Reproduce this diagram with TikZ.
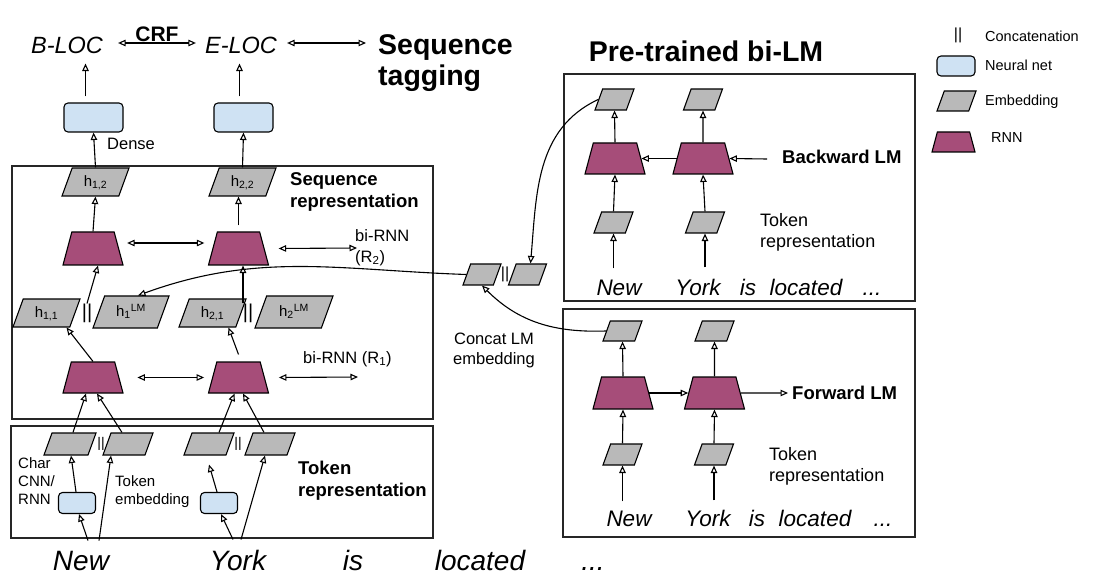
\documentclass[tikz,border=0pt]{standalone}
\usepackage{fontspec}
\setmainfont{Liberation Sans}
\usetikzlibrary{arrows.meta,positioning,shapes.geometric}
\definecolor{rnnc}{RGB}{166,77,121}
\definecolor{nnc}{RGB}{207,226,243}
\definecolor{embc}{RGB}{185,185,185}
\tikzset{
  embbase/.style={trapezium,trapezium left angle=70,trapezium right angle=110,
              draw=black,fill=embc,line width=1.1pt,inner sep=0pt,align=center,
              font=\fontsize{15}{15}\selectfont},
  emb/.code 2 args={\pgfmathsetlengthmacro\embw{#1-0.728*#2}%
              \pgfmathsetlengthmacro\embh{#2/2+4.5pt}%
              \pgfmathsetlengthmacro\embd{#2/2-4.5pt}%
              \pgfkeysalso{embbase,text width=\embw,text height=\embh,text depth=\embd}},
  emb/.default={39pt}{21pt},
  rnnbase/.style={trapezium,trapezium left angle=75,trapezium right angle=75,
              draw=black,fill=rnnc,line width=1.1pt,inner sep=0pt},
  rnn/.code 2 args={\pgfmathsetlengthmacro\rnnw{#1-0.536*#2}%
              \pgfkeysalso{rnnbase,text width=\rnnw,text height=#2,text depth=0pt}},
  rnn/.default={60pt}{32pt},
  nnet/.style={draw=black,fill=nnc,rounded corners=4pt,line width=1.1pt,
               inner sep=0pt,minimum width=37pt,minimum height=21pt},
  panel/.style={draw=black!85,line width=1.4pt,inner sep=0pt},
  arr/.style={-{Triangle[open,length=7.5pt,width=6.5pt]},line width=1.1pt},
  biarr/.style={{Triangle[open,length=7.5pt,width=6.5pt]}-{Triangle[open,length=7.5pt,width=6.5pt]},line width=1.1pt},
  bars/.style={inner sep=0pt,font=\fontsize{20}{20}\selectfont},
  tag/.style={inner sep=0pt,font=\fontsize{23.5}{28}\selectfont\itshape},
  title/.style={inner sep=0pt,font=\fontsize{28.5}{31}\selectfont\bfseries},
  lbl/.style={inner sep=0pt,font=\fontsize{16.5}{20.5}\selectfont},
  boldlbl/.style={inner sep=0pt,font=\fontsize{18.5}{22}\selectfont\bfseries},
  small/.style={inner sep=0pt,font=\fontsize{15}{18}\selectfont},
  lmword/.style={inner sep=0pt,anchor=base,font=\fontsize{22.5}{24}\selectfont\itshape},
  word/.style={inner sep=0pt,anchor=base,font=\fontsize{28}{30}\selectfont\itshape},
  lgd/.style={inner sep=0pt,font=\fontsize{14.5}{16}\selectfont},
}
\begin{document}
\begin{tikzpicture}[x=1pt,y=-1pt]
  \useasboundingbox (0,0) rectangle (1109,580);

  % sequence tagging
  \node[tag] (bloc) at (67,45) {B-LOC};
  \node[tag] (eloc) at (241,45) {E-LOC};
  \node[title,align=left,anchor=west] (seqtag) at (378,63) {Sequence\\tagging};
  \draw[biarr] ([xshift=15pt,yshift=2pt]bloc.east) --
    node[above=1pt,inner sep=0pt,font=\fontsize{21}{21}\selectfont\bfseries] (crf) {CRF}
    ([xshift=-9pt,yshift=2pt]eloc.west);
  \draw[biarr] ([xshift=10pt,yshift=2pt]eloc.east) -- ([xshift=-12pt,yshift=2pt]eloc.east -| seqtag.west);

  \node[nnet,minimum width=59pt,minimum height=29pt] (dn1) at (93.5,117.5) {};
  \node[nnet,minimum width=59pt,minimum height=29pt] (dn2) at (243.5,117.5) {};
  \node[lbl,anchor=west] (dlbl) at (107,144) {Dense};
  \draw[arr] ([xshift=-8pt,yshift=6pt]dn1.north) -- ([xshift=-8pt,yshift=-10pt]dn1.north |- bloc.south);
  \draw[arr] ([xshift=-4pt,yshift=6pt]dn2.north) -- ([xshift=-4pt,yshift=-10pt]dn2.north |- eloc.south);

  % sequence representation
  \node[panel,minimum width=421pt,minimum height=253pt] (seqbox) at (222.5,292.5) {};
  \node[boldlbl,align=left,anchor=west] (seqlbl) at (290,191.5) {Sequence\\representation};
  \node[emb={67pt}{28pt}] (h12) at (95.5,182) {h\textsubscript{1,2}};
  \node[emb={67pt}{28pt}] (h22) at (242.5,182) {h\textsubscript{2,2}};
  \draw[arr] (h12.north) -- (dn1.south);
  \draw[arr] (h22.north) -- (dn2.south);

  \node[rnn={60pt}{33pt}] (rb2) at (93,248.5) {};
  \node[rnn={60pt}{33pt}] (re2) at (238.5,248.5) {};
  \coordinate (r2end) at (357,248);
  \draw[arr] (rb2.north) -- (h12.south);
  \draw[arr] ([yshift=6pt]re2.north) -- (re2.north |- h22.south);
  \draw[biarr] ([xshift=8pt,yshift=5.5pt]rb2.east) -- ([xshift=-8pt,yshift=5.5pt]re2.west);
  \draw[biarr] ([xshift=14pt]re2.east) -- (r2end);
  \node[lbl,align=left,anchor=west] (bir2) at (355,247.5) {bi-RNN\\(R\textsubscript{2})};

  \node[emb={67pt}{28pt}] (h11) at (46.5,313) {h\textsubscript{1,1}};
  \node[bars] (cc1) at (87,313) {||};
  \node[emb={76pt}{32pt}] (h1lm) at (131,312) {h\textsubscript{1}\textsuperscript{LM}};
  \node[emb={67pt}{28pt}] (h21) at (212.5,313) {h\textsubscript{2,1}};
  \node[bars] (cc2) at (248,313) {||};
  \node[emb={78pt}{32pt}] (h2lm) at (294,312) {h\textsubscript{2}\textsuperscript{LM}};
  \draw[arr] (cc1.north) -- ([xshift=5pt]rb2.south);
  \draw[arr] ([xshift=-5pt]cc2.north) -- ([xshift=-5pt]cc2.north |- re2.south);

  \node[rnn={60pt}{31pt}] (rb1) at (93,377.5) {};
  \node[rnn={60pt}{31pt}] (re1) at (238.5,377.5) {};
  \coordinate (r1end) at (358,377);
  \draw[arr] (rb1.north) -- ([xshift=20pt]h11.south);
  \draw[arr] ([yshift=7pt]re1.north) -- ([xshift=16pt]h21.south);
  \draw[biarr] ([xshift=18pt]rb1.east) -- ([xshift=-8pt]re1.west);
  \draw[biarr] ([xshift=14pt]re1.east) -- (r1end);
  \node[lbl,anchor=west] (bir1) at (303,359) {bi-RNN (R\textsubscript{1})};

  % token representation
  \node[panel,minimum width=422pt,minimum height=112pt] (tokbox) at (222,482) {};
  \node[emb={52pt}{22pt}] (tc1) at (70,444) {};
  \node[bars,font=\fontsize{14}{14}\selectfont] (cc3) at (101,444) {||};
  \node[emb={50pt}{22pt}] (tw1) at (128,444) {};
  \node[emb={50pt}{22pt}] (tc2) at (209,444) {};
  \node[bars,font=\fontsize{14}{14}\selectfont] (cc4) at (238,444) {||};
  \node[emb={50pt}{22pt}] (tw2) at (270,444) {};
  \node[nnet] (nc1) at (77,503) {};
  \node[nnet] (nc2) at (219,503) {};
  \node[small,align=left,anchor=west] (charlbl) at (18,481.5) {Char\\CNN/\\RNN};
  \node[small,align=left,anchor=west] (embl) at (115,491.5) {Token\\embedding};
  \node[boldlbl,align=left,anchor=west] (toklbl) at (298,481) {Token\\representation};

  \node[word] (wnew) at (81,570) {New};
  \node[word] (wyork) at (238,570) {York};
  \node[word] (wis) at (353,570) {is};
  \node[word] (wloc) at (480,570) {located};
  \node[word] (wdots) at (593,570) {...};

  \draw[arr] ([xshift=-1pt]nc1.north) -- ([xshift=1pt]tc1.south);
  \draw[arr] ([xshift=7pt,yshift=10pt]wnew.north) -- ([xshift=2pt]nc1.south);
  \draw[arr] ([xshift=18pt,yshift=10pt]wnew.north) -- ([xshift=-17pt]tw1.south);
  \draw[arr] ([xshift=-2pt]nc2.north) -- ([yshift=-9pt]tc2.south);
  \draw[arr] ([xshift=-5pt,yshift=10pt]wyork.north) -- ([xshift=2pt]nc2.south);
  \draw[arr] ([xshift=3pt,yshift=10pt]wyork.north) -- ([xshift=-5pt]tw2.south);
  \draw[arr] ([xshift=3pt]tc1.north) -- ([xshift=-7pt]rb1.south);
  \draw[arr] ([xshift=-6pt]tw1.north) -- ([xshift=4pt]rb1.south);
  \draw[arr] ([xshift=10pt]tc2.north) -- ([xshift=-4pt]re1.south);
  \draw[arr] ([xshift=-6pt]tw2.north) -- ([xshift=4.5pt]re1.south);

  % pre-trained bi-LM
  \node[title] (lmtitle) at (706,51.5) {Pre-trained bi-LM};
  \node[panel,minimum width=351pt,minimum height=227pt] (bkbox) at (739.5,187.5) {};
  \node[emb] (bt1) at (614.5,99.5) {};
  \node[emb] (bt2) at (703,99.5) {};
  \node[rnn={60pt}{31pt}] (bk1) at (615,158.5) {};
  \node[rnn={60pt}{31pt}] (bk2) at (703,158.5) {};
  \node[emb] (bb1) at (613.5,222.5) {};
  \node[emb] (bb2) at (705,222.5) {};
  \coordinate (bkin) at (767,159);
  \node[boldlbl,anchor=west] (bklbl) at (782,157) {Backward LM};
  \node[lbl,font=\fontsize{18}{21}\selectfont,align=left,anchor=west] (btok) at (760,232.5) {Token\\representation};
  \node[lmword] (bnew) at (619,295) {New};
  \node[lmword] (byork) at (698,295) {York};
  \node[lmword] (bis) at (748,295) {is};
  \node[lmword] (bloc2) at (806,295) {located};
  \node[lmword] (bdots) at (872,295) {...};
  \draw[arr] (bk1.north) -- (bt1.south);
  \draw[arr] (bk2.north) -- (bt2.south);
  \draw[arr] (bk2.west) -- (bk1.east);
  \draw[arr] (bkin) -- (bk2.east);
  \draw[arr] (bb1.north) -- (bk1.south);
  \draw[arr] (bb2.north) -- (bk2.south);
  \draw[arr] ([yshift=11pt]bnew.north -| bb1.south) -- (bb1.south);
  \draw[arr] ([yshift=11pt]byork.north -| bb2.south) -- (bb2.south);

  \node[panel,minimum width=352pt,minimum height=228pt] (fwbox) at (739,423) {};
  \node[emb={39pt}{20pt}] (ft1) at (622.5,331) {};
  \node[emb={39pt}{20pt}] (ft2) at (714.5,331) {};
  \node[rnn] (fw1) at (623,393) {};
  \node[rnn] (fw2) at (714.5,393) {};
  \node[emb] (fb1) at (622.5,454.5) {};
  \node[emb] (fb2) at (714,454.5) {};
  \coordinate (fwout) at (788,393);
  \node[boldlbl,anchor=west] (fwlbl) at (792,393) {Forward LM};
  \node[lbl,font=\fontsize{18}{21}\selectfont,align=left,anchor=west] (ftok) at (769,466) {Token\\representation};
  \node[lmword] (fnew) at (629,526) {New};
  \node[lmword] (fyork) at (708,526) {York};
  \node[lmword] (fis) at (757,526) {is};
  \node[lmword] (floc) at (815,526) {located};
  \node[lmword] (fdots) at (883,526) {...};
  \draw[arr] (fw1.north) -- (ft1.south);
  \draw[arr] (fw2.north) -- (ft2.south);
  \draw[arr] (fw1.east) -- (fw2.west);
  \draw[arr] (fw2.east) -- (fwout);
  \draw[arr] (fb1.north) -- (fw1.south);
  \draw[arr] (fb2.north) -- (fw2.south);
  \draw[arr] ([yshift=9pt]fnew.north -| fb1.south) -- (fb1.south);
  \draw[arr] ([yshift=9pt]fyork.north -| fb2.south) -- (fb2.south);

  % concat LM embedding
  \node[emb={38pt}{21pt}] (cl1) at (482,274.5) {};
  \node[bars,font=\fontsize{16}{16}\selectfont] (cc5) at (505,274.5) {||};
  \node[emb={38pt}{21pt}] (cl2) at (527.5,274.5) {};
  \node[lbl,align=center,font=\fontsize{16.5}{20}\selectfont] (cllbl) at (494,350) {Concat LM\\embedding};
  \draw[arr] (cl1.west) to[out=178,in=20] ([xshift=7pt]h1lm.north);
  \draw[arr] (bt1.west) to[out=205,in=85] ([xshift=3pt]cl2.north);
  \draw[arr] (ft1.west) to[out=182,in=-45] (cl1.south);

  % legend
  \node[bars,font=\fontsize{16}{16}\selectfont] (lgc) at (958,35) {||};
  \node[lgd,anchor=west] (lgct) at (985,36) {Concatenation};
  \node[nnet,minimum width=38pt,minimum height=20pt] (lgn) at (956,66) {};
  \node[lgd,anchor=west] (lgnt) at (985,65) {Neural net};
  \node[emb={39pt}{20pt}] (lge) at (956.5,101) {};
  \node[lgd,anchor=west] (lget) at (985,102) {Embedding};
  \node[rnn={43pt}{20pt}] (lgr) at (953.5,142) {};
  \node[lgd,anchor=west] (lgrt) at (991,138) {RNN};
\end{tikzpicture}
\end{document}
